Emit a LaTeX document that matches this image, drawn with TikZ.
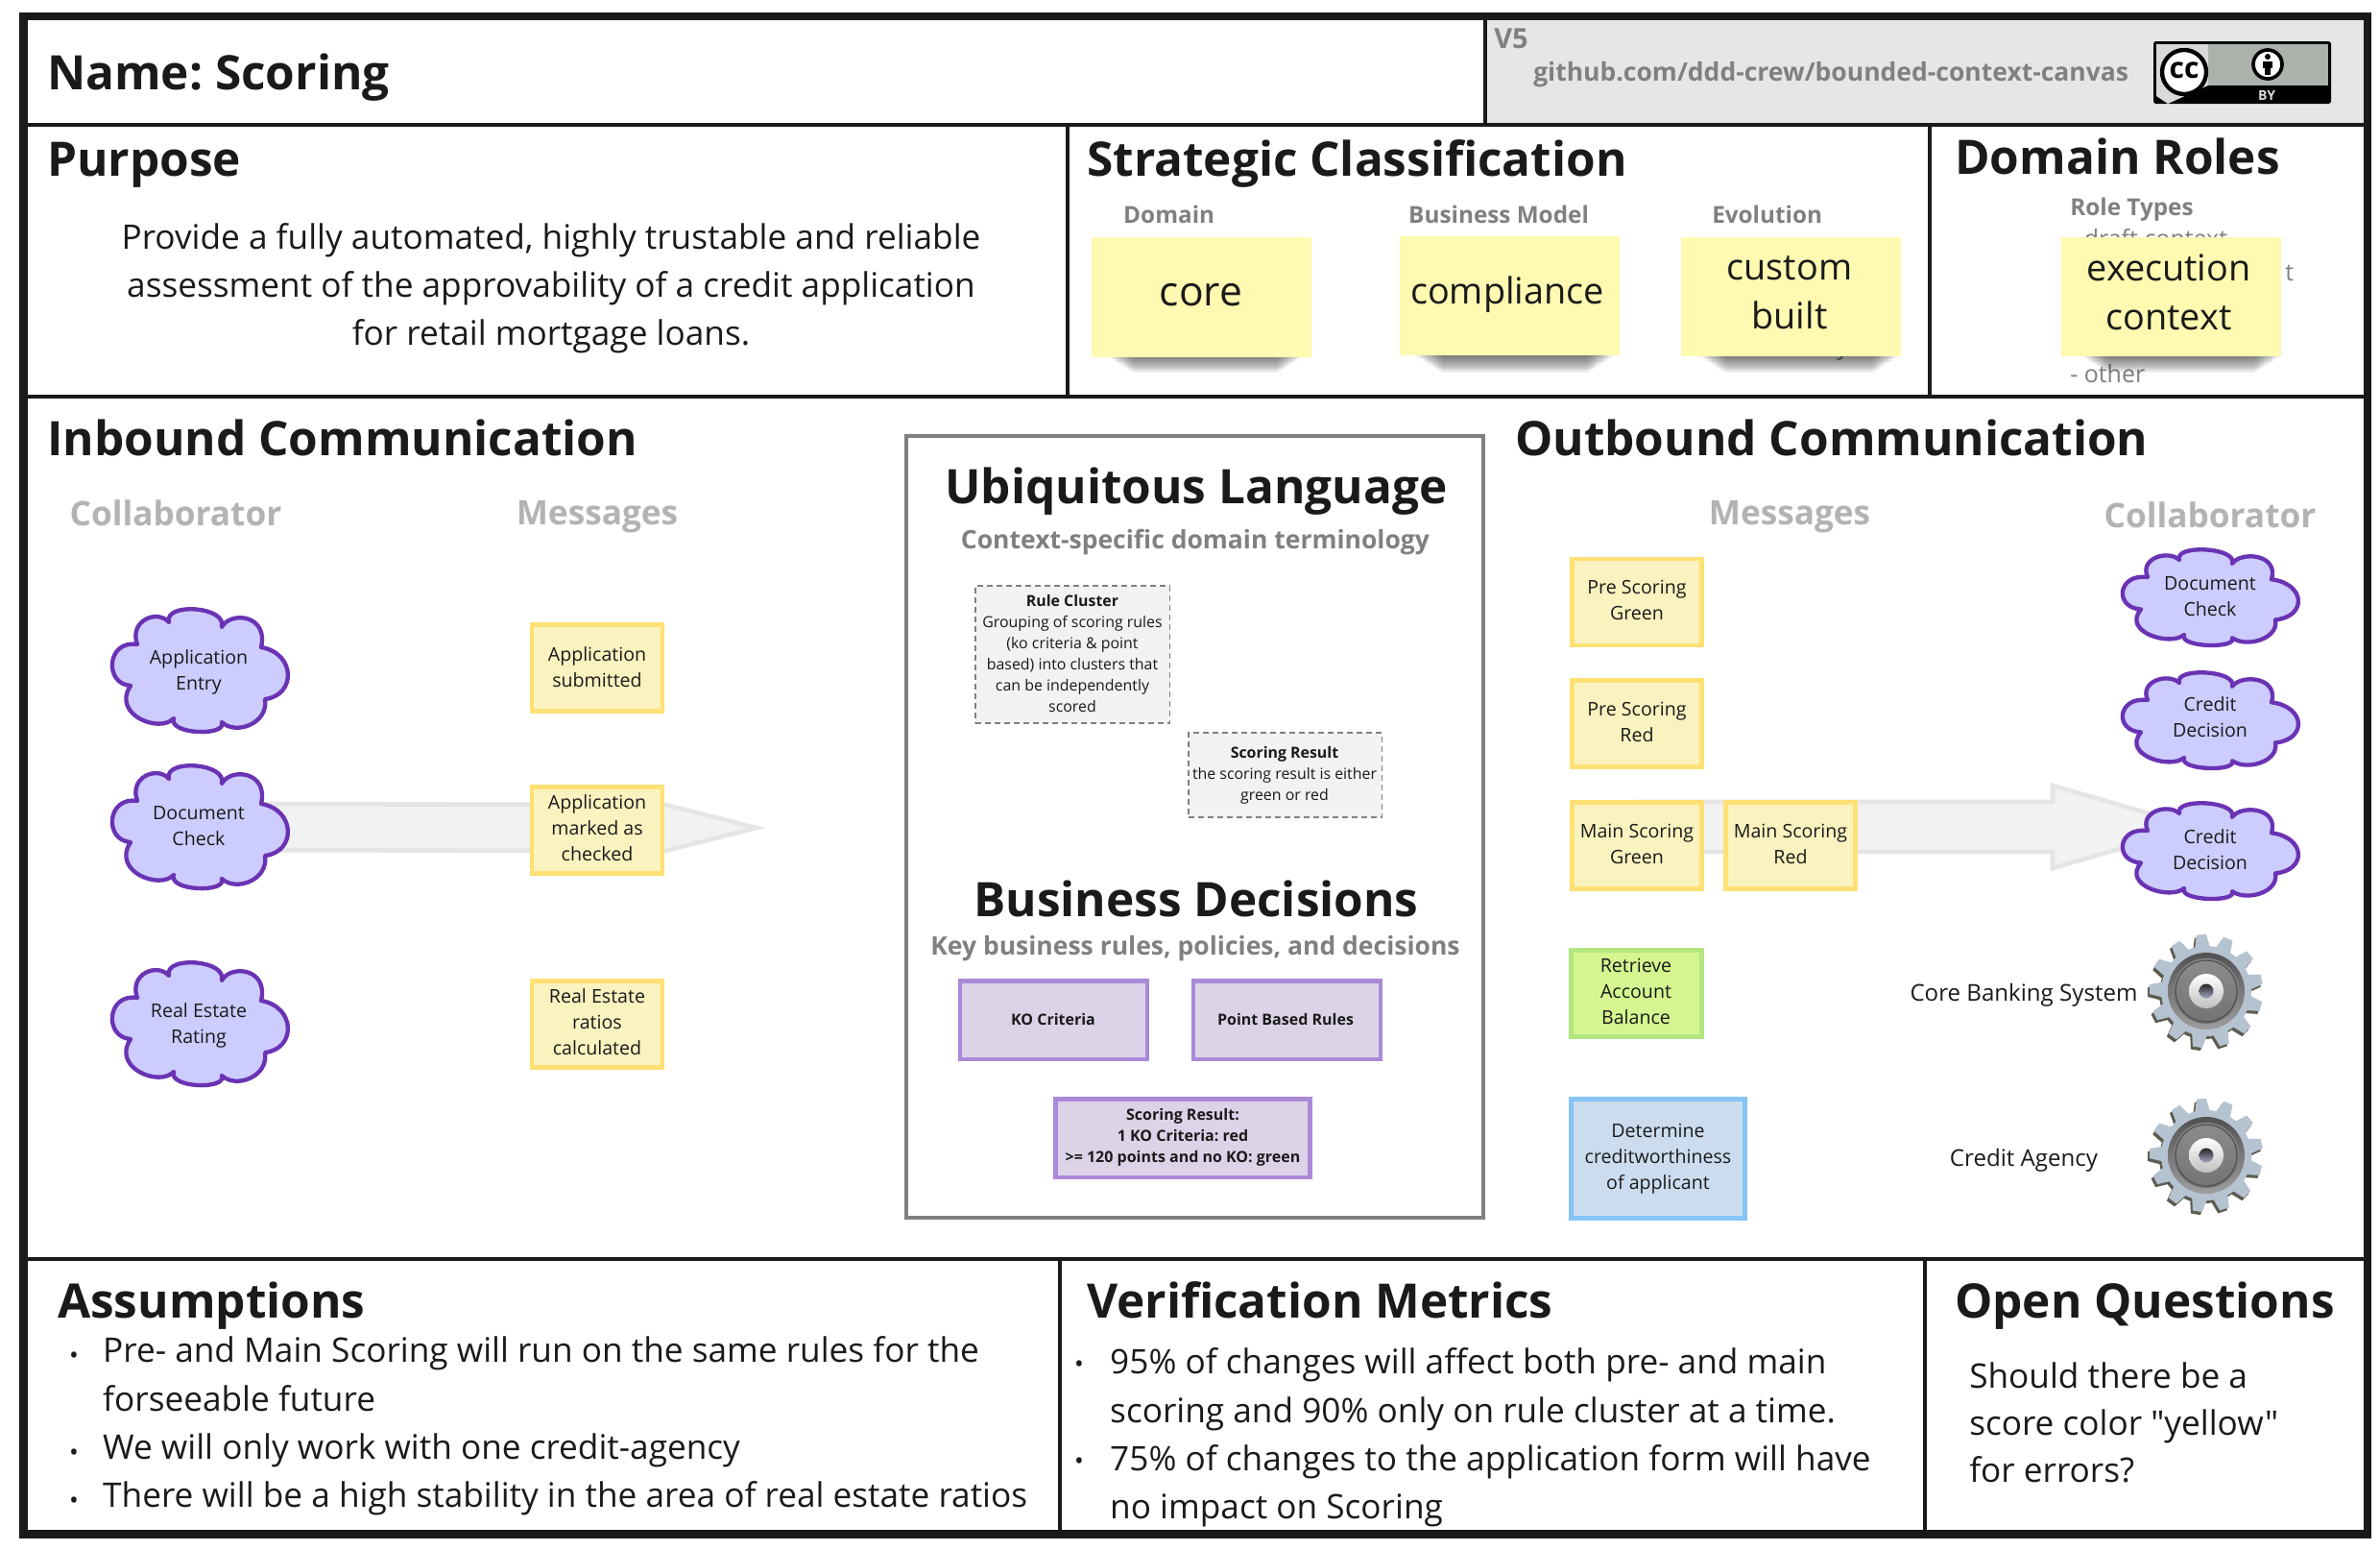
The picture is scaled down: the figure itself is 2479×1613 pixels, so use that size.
\documentclass[tikz,border=0pt]{standalone}
\usepackage{fontspec}
\setmainfont{Open Sans}[Ligatures=TeXOff]
\usetikzlibrary{calc}
\frenchspacing
\newcommand\fs[2]{\fontsize{\fpeval{#1*0.85358}pt}{\fpeval{#2*0.85358}pt}\selectfont}
\definecolor{ink}{HTML}{1A1A1A}
\definecolor{midgrey}{HTML}{808080}
\definecolor{lightgrey}{HTML}{B3B3B3}
\definecolor{headbg}{HTML}{E6E6E6}
\definecolor{notefill}{HTML}{FFF9B1}
\definecolor{evfill}{HTML}{FAF2BF}
\definecolor{evline}{HTML}{FFE074}
\definecolor{grfill}{HTML}{D4F590}
\definecolor{grline}{HTML}{B2E681}
\definecolor{blfill}{HTML}{CCDCEF}
\definecolor{blline}{HTML}{85C4F5}
\definecolor{pufill}{HTML}{DDD3E8}
\definecolor{puline}{HTML}{AA8AD8}
\definecolor{clfill}{HTML}{CCCCFF}
\definecolor{clline}{HTML}{6A33B4}
\definecolor{gearface}{HTML}{B5C3D1}
\definecolor{gearside}{HTML}{5C5C50}
\definecolor{badge}{HTML}{AAB2AB}
\tikzset{
  x=0.03cm,y=-0.03cm,
  rule/.style={draw=ink,line width=0.12cm},
  head/.style={anchor=west,inner sep=0,text=ink,font=\bfseries\fs{49.5}{60}},
  sub/.style={inner sep=0,text=midgrey,font=\bfseries\fs{24.3}{32}},
  col/.style={inner sep=0,text=lightgrey,font=\bfseries\fs{35.2}{44}},
  bodytext/.style={anchor=base west,inner sep=0,text=ink,font=\fs{35.2}{50}},
  bullet/.style={inner sep=0,text=ink,font=\fs{26}{30}},
  lang/.style={inner sep=0,text=ink,font=\bfseries\fs{49.5}{60}},
  langsub/.style={inner sep=0,text=midgrey,font=\bfseries\fs{26.5}{36}},
  note/.style={inner sep=0,text=ink,align=center,font=\fs{37.8}{51}},
  lab/.style={inner sep=0,text=ink,align=center,font=\fs{19.6}{27}},
  sys/.style={inner sep=0,text=ink,font=\fs{24.1}{30}},
  notebox/.style={fill=notefill},
  event/.style={draw=evline,fill=evfill,line width=0.14cm},
  evgreen/.style={draw=grline,fill=grfill,line width=0.14cm},
  evblue/.style={draw=blline,fill=blfill,line width=0.14cm},
  decision/.style={draw=puline,fill=pufill,line width=0.14cm},
  term/.style={draw=midgrey,fill=black!5,dashed,dash pattern=on 0.18cm off 0.12cm,line width=0.05cm},
  bigarrow/.style={draw=black!10,fill=black!5,line width=0.14cm,line join=miter},
  cloudline/.style={draw=clline,fill=clfill,line width=0.13cm,line join=round},
  pics/cloudy/.style={code={
    \path[cloudline] (-32,-50)
      .. controls (-38,-71) and (29,-67) .. (23,-45)
      .. controls (32,-62) and (72,-58) .. (64,-24)
      .. controls (100,-18) and (101,26) .. (68,30)
      .. controls (72,55) and (38,68) .. (23,54)
      .. controls (29,69) and (-33,67) .. (-27,50)
      .. controls (-42,66) and (-92,46) .. (-72,16)
      .. controls (-100,14) and (-97,-32) .. (-65,-27)
      .. controls (-74,-52) and (-44,-64) .. (-32,-50) -- cycle;
  }},
  pics/gear/.style={code={
    \foreach \dx/\dy/\col in {-2/3/gearside,0/0/gearface}{
      \begin{scope}[shift={(\dx,\dy)}]
        \fill[\col] (0,0) circle[radius=47];
        \foreach \k in {0,...,12}{
          \fill[\col,rotate=5+\k*27.692] (-8,-45) -- (-5,-59) -- (5,-59) -- (8,-45) -- cycle;
        }
      \end{scope}
    }
    \shade[top color=black!68,bottom color=black!38] (0,0) circle[radius=40];
    \shade[top color=black!45,bottom color=black!55] (0,0) circle[radius=34];
    \draw[black!68,line width=0.04cm] (0,0) circle[radius=32];
    \shade[top color=white,bottom color=black!25] (0,0) circle[radius=18];
    \shade[top color=black!85,bottom color=blue!30!black!35] (0,0) circle[radius=7.5];
  }}
}
\begin{document}
\begin{tikzpicture}
\useasboundingbox (0,0) rectangle (2479,1613);
\fill[white] (0,0) rectangle (2479,1613);
% header background
\fill[headbg] (1549,19) rectangle (2464,130);
% frame
\draw[ink,line width=0.255cm] (24.5,17) rectangle (2466,1597.5);
\draw[rule] (24,130) -- (2466,130);
\draw[rule] (24,413) -- (2466,413);
\draw[rule] (24,1311) -- (2466,1311);
\draw[rule] (1547,17) -- (1547,130);
\draw[rule] (1112,130) -- (1112,413);
\draw[rule] (2010,130) -- (2010,413);
\draw[rule] (1104,1311) -- (1104,1597);
\draw[rule] (2005,1311) -- (2005,1597);
% header
\node[head] (name) at (49,81) {Name: Scoring};
\node[anchor=west,inner sep=0,text=midgrey,font=\bfseries\fs{29}{36}] (ver) at (1556,40) {V5};
\node[anchor=west,inner sep=0,text=midgrey,font=\bfseries\fs{26.5}{36}] (url) at (1597,78) {github.com/ddd-crew/bounded-context-canvas};
% cc badge
\fill[black,rounded corners=0.08cm] (2243,43) rectangle (2428,108);
\fill[badge] (2246,46) rectangle (2425,89);
\fill[black!15] (2246,46) -- (2300,46) -- (2300,89) -- (2258,108) -- (2246,100) -- cycle;
\fill[white,draw=black,line width=0.13cm] (2275,75) circle[radius=23];
\node[inner sep=0,text=black,font=\bfseries\fs{30}{30}] (cc) at (2275,73) {cc};
\fill[white,draw=black,line width=0.11cm] (2362,67) circle[radius=15];
\fill[black] (2362,59) circle[radius=3];
\fill[black] (2357,64) rectangle (2367,71);
\fill[black] (2359,71) rectangle (2365,78);
\node[inner sep=0,text=black!15,font=\bfseries\fs{14}{16}] (by) at (2361,99) {BY};
% purpose
\node[head] (purpose) at (49,172) {Purpose};
\node[inner sep=0,text=ink,align=center,font=\fs{35.2}{50}] (purposetext) at (574,300.5) {Provide a fully automated, highly trustable and reliable\\assessment of the approvability of a credit application\\for retail mortgage loans.};
% strategic
\node[head] (strategic) at (1132,171) {Strategic Classification};
\node[sub,anchor=west] (sdomain) at (1170,223) {Domain};
\node[sub,anchor=west] (sbm) at (1467,223) {Business Model};
\node[sub,anchor=west] (sevo) at (1783,223) {Evolution};
\node[head] (roles) at (2036,163) {Domain Roles};
\node[sub,anchor=west] (rtypes) at (2156,218) {Role Types};
\node[anchor=west,inner sep=0,text=midgrey,font=\fs{25}{30}] (rdraft) at (2156,248) {- draft context};
\node[anchor=west,inner sep=0,text=midgrey,font=\fs{25}{30}] (rt) at (2380,284) {t};
\node[anchor=west,inner sep=0,text=midgrey,font=\fs{25}{30}] (rother) at (2156,389) {- other};
\node[anchor=east,inner sep=0,text=midgrey,font=\fs{25}{30}] (ey) at (1926,366) {y};
% note shadows
\foreach \xa/\xb in {1137/1366,1459/1689,1754/1986,2152/2384}{
  \foreach \i in {0,...,13}{
    \fill[black,opacity=0.05] (\xa+14+\i*2.2,366) rectangle (\xb-6-\i*2.2,370+1.4*\i);
  }
}
% notes
\node[notebox,minimum width=6.87cm,minimum height=3.75cm,inner sep=0] (ncore) at (1251.5,309.5) {};
\node[note,font=\fs{42.5}{51}] (tcore) at (1251,307) {core};
\node[notebox,minimum width=6.87cm,minimum height=3.7cm,inner sep=0] (ncomp) at (1572,308) {};
\node[note] (tcomp) at (1570,307) {compliance};
\node[notebox,minimum width=6.87cm,minimum height=3.72cm,inner sep=0] (ncust) at (1865,309) {};
\node[note] (tcust) at (1864,304.5) {custom\\built};
\node[notebox,minimum width=6.87cm,minimum height=3.72cm,inner sep=0] (nexec) at (2261,309) {};
\node[note] (texec) at (2259,304.5) {execution\\context};
% inbound / outbound
\node[head] (inbound) at (49,456) {Inbound Communication};
\node[head] (outbound) at (1578,456) {Outbound Communication};
\node[col] (icol) at (183,534) {Collaborator};
\node[col] (imsg) at (622,538) {Messages};
\node[col] (omsg) at (1864,538) {Messages};
\node[col] (ocol) at (2302,536) {Collaborator};
% named anchors for block arrows
\coordinate (cl2c) at (208,861);
\coordinate (tipL) at (788,862);
\coordinate (ms1c) at (1705,861);
\coordinate (tipR) at (2287,861);
\draw[bigarrow] ($(cl2c)+(0,-24)$) -- ($(tipL)+(-115,-24)$) -- ($(tipL)+(-115,-29)$) -- (tipL) -- ($(tipL)+(-115,29)$) -- ($(tipL)+(-115,24)$) -- ($(cl2c)+(0,24)$) -- cycle;
\draw[bigarrow] ($(ms1c)+(0,-26)$) -- ($(tipR)+(-149,-26)$) -- ($(tipR)+(-149,-43)$) -- (tipR) -- ($(tipR)+(-149,43)$) -- ($(tipR)+(-149,26)$) -- ($(ms1c)+(0,26)$) -- cycle;
% left clouds
\foreach \y in {698,861,1066}{ \pic at (208,\y) {cloudy}; }
\node[lab] (cl1) at (207,700) {Application\\Entry};
\node[lab] (cl2) at (207,860) {Document\\Check};
\node[lab] (cl3) at (207,1068) {Real Estate\\Rating};
% left messages
\node[event,minimum width=4.08cm,minimum height=2.7cm,inner sep=0] (m1box) at (622,695.5) {};
\node[lab] (m1) at (622,694.5) {Application\\submitted};
\node[event,minimum width=4.08cm,minimum height=2.7cm,inner sep=0] (m2box) at (622,864.5) {};
\node[lab] (m2) at (622,862) {Application\\marked as\\checked};
\node[event,minimum width=4.08cm,minimum height=2.7cm,inner sep=0] (m3box) at (622,1066.5) {};
\node[lab] (m3) at (622,1064) {Real Estate\\ratios\\calculated};
% ubiquitous language box
\draw[draw=midgrey,fill=white,line width=0.14cm] (944,454) rectangle (1545,1268);
\node[lang] (ul) at (1246,512) {Ubiquitous Language};
\node[langsub] (ulsub) at (1245,565) {Context-specific domain terminology};
\node[term,minimum width=6.08cm,minimum height=4.29cm,inner sep=0] (t1box) at (1117,681.5) {};
\node[inner sep=0,text=ink,align=center,font=\fs{15.9}{22}] (t1) at (1117,681) {\textbf{Rule Cluster}\\Grouping of scoring rules\\(ko criteria \& point\\based) into clusters that\\can be independently\\scored};
\node[term,minimum width=6.05cm,minimum height=2.64cm,inner sep=0] (t2box) at (1338.5,807) {};
\node[inner sep=0,text=ink,align=center,font=\fs{15.9}{22}] (t2) at (1338,807) {\textbf{Scoring Result}\\the scoring result is either\\green or red};
\node[lang] (bd) at (1246,936) {Business Decisions};
\node[langsub] (bdsub) at (1245,988) {Key business rules, policies, and decisions};
\node[decision,minimum width=5.85cm,minimum height=2.45cm,inner sep=0] (dkobox) at (1097.5,1062) {};
\node[inner sep=0,text=ink,font=\bfseries\fs{16}{22}] (dko) at (1097,1061) {KO Criteria};
\node[decision,minimum width=5.85cm,minimum height=2.45cm,inner sep=0] (dptbox) at (1340.5,1062) {};
\node[inner sep=0,text=ink,font=\bfseries\fs{16}{22}] (dpt) at (1339,1061) {Point Based Rules};
\node[decision,minimum width=7.95cm,minimum height=2.45cm,inner sep=0] (dresbox) at (1232,1185) {};
\node[inner sep=0,text=ink,align=center,font=\bfseries\fs{16}{22}] (dres) at (1232,1184) {Scoring Result:\\1 KO Criteria: red\\>= 120 points and no KO: green};
% right messages
\node[event,minimum width=4.05cm,minimum height=2.7cm,inner sep=0] (o1box) at (1705,627) {};
\node[lab] (o1) at (1705,625) {Pre Scoring\\Green};
\node[event,minimum width=4.05cm,minimum height=2.7cm,inner sep=0] (o2box) at (1705,753.5) {};
\node[lab] (o2) at (1705,752) {Pre Scoring\\Red};
\node[event,minimum width=4.05cm,minimum height=2.7cm,inner sep=0] (o3box) at (1705,880.5) {};
\node[lab] (o3) at (1705,879) {Main Scoring\\Green};
\node[event,minimum width=4.05cm,minimum height=2.7cm,inner sep=0] (o4box) at (1865,880.5) {};
\node[lab] (o4) at (1865,879) {Main Scoring\\Red};
\node[evgreen,minimum width=4.08cm,minimum height=2.7cm,inner sep=0] (o5box) at (1704.5,1034.5) {};
\node[lab] (o5) at (1704,1032) {Retrieve\\Account\\Balance};
\node[evblue,minimum width=5.43cm,minimum height=3.72cm,inner sep=0] (o6box) at (1727,1206.5) {};
\node[lab] (o6) at (1727,1206.5) {Determine\\creditworthiness\\of applicant};
% right clouds
\foreach \y in {622,750,886}{ \pic[yscale=0.78] at (2302,\y) {cloudy}; }
\node[lab] (c1) at (2302,621) {Document\\Check};
\node[lab] (c2) at (2302,747) {Credit\\Decision};
\node[lab] (c3) at (2302,884.5) {Credit\\Decision};
% gears
\pic at (2298,1032) {gear};
\pic at (2298,1203) {gear};
\node[sys] (s1) at (2108,1036) {Core Banking System};
\node[sys] (s2) at (2108,1208) {Credit Agency};
% bottom
\node[head] (assump) at (60,1360) {Assumptions};
\node[head] (verif) at (1132,1354) {Verification Metrics};
\node[head] (openq) at (2036,1360) {Open Questions};
\node[bullet] (b1) at (77,1414) {•};
\node[bullet] (b2) at (77,1515) {•};
\node[bullet] (b3) at (77,1565) {•};
\node[bodytext] (a1) at (107,1418) {Pre- and Main Scoring will run on the same rules for the};
\node[bodytext] (a1b) at (107,1469) {forseeable future};
\node[bodytext] (a2) at (107,1519) {We will only work with one credit-agency};
\node[bodytext] (a3) at (107,1569) {There will be a high stability in the area of real estate ratios};
\node[bullet] (v1b) at (1124,1423) {•};
\node[bullet] (v2b) at (1124,1524) {•};
\node[bodytext] (v1) at (1156,1430) {95\% of changes will affect both pre- and main};
\node[bodytext] (v1c) at (1156,1481) {scoring and 90\% only on rule cluster at a time.};
\node[bodytext] (v2) at (1156,1531) {75\% of changes to the application form will have};
\node[bodytext] (v2c) at (1156,1581) {no impact on Scoring};
\node[bodytext] (q1) at (2051,1445) {Should there be a};
\node[bodytext] (q2) at (2051,1494) {score color "yellow"};
\node[bodytext] (q3) at (2051,1543) {for errors?};
\end{tikzpicture}
\end{document}
